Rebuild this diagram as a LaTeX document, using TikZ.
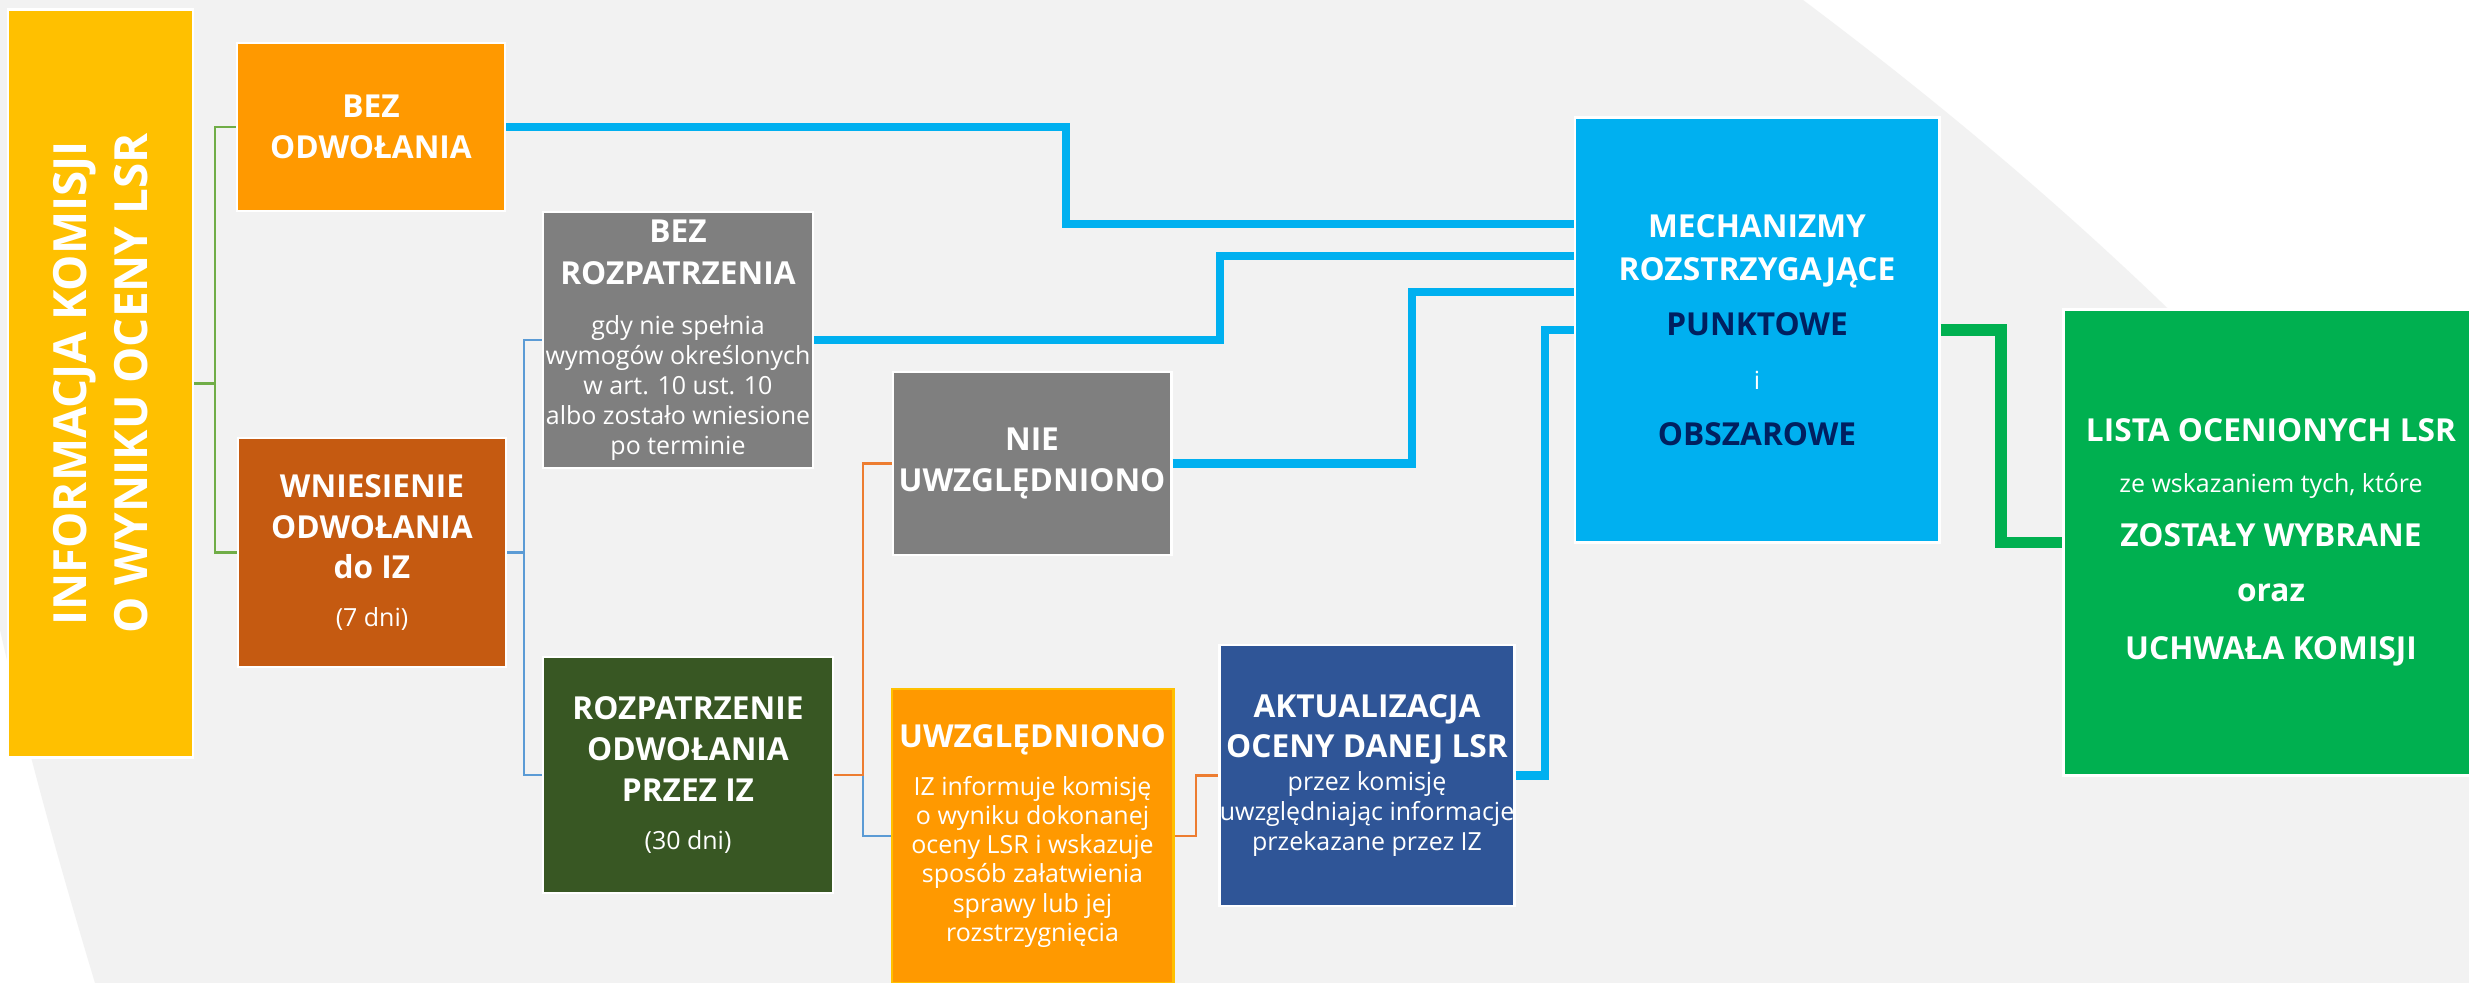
\documentclass[tikz,border=0pt]{standalone}
\usepackage{fontspec}
\setmainfont{Open Sans}

\definecolor{bggray}{HTML}{F2F2F2}
\definecolor{cyellow}{HTML}{FFC000}
\definecolor{corange}{HTML}{FF9900}
\definecolor{cbrown}{HTML}{C55A11}
\definecolor{cgray}{HTML}{7F7F7F}
\definecolor{cdkgreen}{HTML}{385723}
\definecolor{cdkblue}{HTML}{2F5597}
\definecolor{cblue}{HTML}{00B0F0}
\definecolor{cgreen}{HTML}{00B050}
\definecolor{cnavy}{HTML}{002060}
\definecolor{lgreen}{HTML}{70AD47}
\definecolor{lblue}{HTML}{5B9BD5}
\definecolor{lorange}{HTML}{ED7D31}

\newcommand{\headf}{\fontsize{9}{8.3}\selectfont\bfseries}
\newcommand{\bodyf}{\fontsize{7.1}{8.3}\selectfont\mdseries}
\lineskiplimit=-20pt

\begin{document}
\begin{tikzpicture}[x=0.01cm, y=-0.01cm,
    box/.style={draw=white, line width=0.8pt, text=white, align=center, inner sep=0pt, font=\headf},
    link/.style={line width=0.8pt},
    mainlink/.style={line width=2.3pt, cblue}]
    \useasboundingbox (0,0) rectangle (2469,983);

    % Background
    \fill[white] (0,0) rectangle (2469,983);
    \fill[bggray] (0,0) -- (1803,0) .. controls (1943,105) and (2080,220) .. (2210,350)
        -- (2480,700) -- (2480,983) -- (95,983) .. controls (55,850) and (25,740) .. (0,630) -- cycle;

    % Left column
    \node[box, fill=cyellow, minimum width=1.85cm, minimum height=7.47cm] (info) at (100.5,383.5) {};
    \node[rotate=90, text=white, align=center, font=\fontsize{13}{17.4}\selectfont\bfseries] (infotext) at (info) {INFORMACJA KOMISJI\\O WYNIKU OCENY LSR};

    \node[box, fill=corange, minimum width=2.68cm, minimum height=1.68cm] (bezodw) at (371,127) {BEZ\\[3.4pt]ODWOŁANIA};
    \node[box, fill=cbrown, minimum width=2.68cm, minimum height=2.29cm] (wniesienie) at (372,552.5) {WNIESIENIE\\[3.4pt]ODWOŁANIA\\[3.1pt]do IZ\\[5.4pt]{\bodyf (7 dni)}};

    % Middle boxes
    \node[box, fill=cgray, minimum width=2.70cm, minimum height=2.56cm] (bezrozp) at (678,340) {BEZ\\[3.6pt]ROZPATRZENIA\\[5.9pt]{\bodyf gdy nie spełnia}\\[0.2pt]{\bodyf wymogów określonych}\\[0.2pt]{\bodyf w art. 10 ust. 10}\\[0.3pt]{\bodyf albo zostało wniesione}\\[0.2pt]{\bodyf po terminie}};
    \node[box, fill=cdkgreen, minimum width=2.90cm, minimum height=2.36cm] (rozp) at (688,775) {ROZPATRZENIE\\[3.4pt]ODWOŁANIA\\[3.1pt]PRZEZ IZ\\[5.4pt]{\bodyf (30 dni)}};
    \node[box, fill=cgray, minimum width=2.78cm, minimum height=1.83cm] (nieuwzgl) at (1032,463.5) {NIE\\[3.1pt]UWZGLĘDNIONO};
    \node[box, fill=corange, draw=cyellow, minimum width=2.81cm, minimum height=2.94cm] (uwzgl) at (1032.5,836) {UWZGLĘDNIONO\\[5.4pt]{\bodyf IZ informuje komisję}\\{\bodyf o wyniku dokonanej}\\{\bodyf oceny LSR i wskazuje}\\{\bodyf sposób załatwienia}\\[0.2pt]{\bodyf sprawy lub jej}\\{\bodyf rozstrzygnięcia}};
    \node[box, fill=cdkblue, minimum width=2.92cm, minimum height=2.61cm] (akt) at (1367,775.5) {AKTUALIZACJA\\[3.1pt]OCENY DANEJ LSR\\[1.1pt]{\bodyf przez komisję}\\[0.2pt]{\bodyf uwzględniając informacje}\\[0.2pt]{\bodyf przekazane przez IZ}};

    % Right boxes
    \node[box, fill=cblue, minimum width=3.64cm, minimum height=4.24cm] (mech) at (1757,330) {MECHANIZMY\\[3.9pt]ROZSTRZYGAJĄCE\\[7.4pt]{\color{cnavy}PUNKTOWE}\\[7.1pt]{\bodyf i}\\[7.6pt]{\color{cnavy}OBSZAROWE}};
    \node[box, fill=cgreen, minimum width=4.14cm, minimum height=4.65cm] (lista) at (2271,542.5) {LISTA OCENIONYCH LSR\\[6.2pt]{\bodyf ze wskazaniem tych, które}\\[7.1pt]ZOSTAŁY WYBRANE\\[7.4pt]oraz\\[8.2pt]UCHWAŁA KOMISJI};

    % Thin brackets
    \coordinate (gx) at (215,383.5);
    \draw[link, lgreen] (info.east) -- (gx);
    \draw[link, lgreen] (bezodw.west) -| (gx) |- (wniesienie.west);

    \coordinate (bx) at (524,552.5);
    \draw[link, lblue] (wniesienie.east) -- (bx);
    \draw[link, lblue] (bezrozp.west) -| (bx) |- (rozp.west);

    \coordinate (ox) at (863,775);
    \draw[link, lblue] (ox) |- (uwzgl.west);
    \draw[link, lorange] (rozp.east) -- (ox) |- (nieuwzgl.west);
    \coordinate (oy) at (1196,775.5);
    \draw[link, lorange] (uwzgl.east) -| (oy) -- (akt.west);

    % Thick lines into the mechanisms box
    \coordinate (m1) at (1066,224);
    \coordinate (m2) at (1220,256);
    \coordinate (m3) at (1412,292);
    \coordinate (m4) at (1545,330);
    \draw[mainlink] (bezodw.east) -| (m1) -- (m1 -| mech.west);
    \draw[mainlink] (bezrozp.east) -| (m2) -- (m2 -| mech.west);
    \draw[mainlink] (nieuwzgl.east) -| (m3) -- (m3 -| mech.west);
    \draw[mainlink] (akt.east) -| (m4) -- (mech.west);

    % Result
    \coordinate (g1) at (2001,542.5);
    \draw[line width=3.4pt, cgreen] (mech.east) -| (g1) -- (lista.west);
\end{tikzpicture}
\end{document}
